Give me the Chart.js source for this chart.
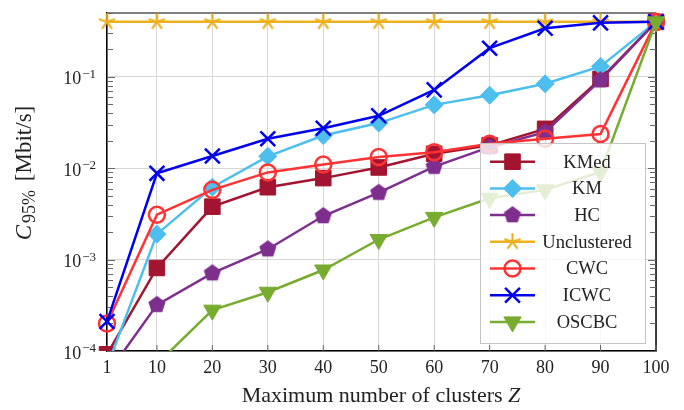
<!DOCTYPE html>
<html lang="en">
<head>
<meta charset="UTF-8">
<title>C95% vs maximum number of clusters</title>
<script src="https://cdn.jsdelivr.net/npm/chart.js"></script>
<style>
    html, body { margin: 0; padding: 0; background: #fff; }
    #wrap { width: 684px; height: 410px; }
</style>
</head>
<body>
<div id="wrap"><canvas id="chart" width="684" height="410"></canvas></div>
<script>
    // data
    const clusters = [1, 10, 20, 30, 40, 50, 60, 70, 80, 90, 100];
    const yTicks = [1e-4, 1e-3, 1e-2, 1e-1];
    const yTickExponents = ['−4', '−3', '−2', '−1'];
    const seriesNames = ['KMed', 'KM', 'HC', 'Unclustered', 'CWC', 'ICWC', 'OSCBC'];

    const kmed = [0.000092, 0.00081, 0.0038, 0.0062, 0.0078, 0.0102, 0.0144, 0.0178, 0.027, 0.095, 0.4];
    const km = [0.000067, 0.0019, 0.0062, 0.0135, 0.0228, 0.0312, 0.0494, 0.063, 0.084, 0.13, 0.4];
    const hc = [0.000055, 0.00032, 0.00071, 0.0013, 0.003, 0.0054, 0.0104, 0.017, 0.0248, 0.092, 0.4];
    const unclustered = [0.4, 0.4, 0.4, 0.4, 0.4, 0.4, 0.4, 0.4, 0.4, 0.4, 0.4];
    const cwc = [0.0002, 0.0031, 0.0058, 0.009, 0.011, 0.0133, 0.015, 0.0185, 0.021, 0.0237, 0.4];
    const icwc = [0.00021, 0.0088, 0.0136, 0.021, 0.0274, 0.0375, 0.072, 0.206, 0.34, 0.39, 0.4];
    const oscbc = [0.00003, 0.000072, 0.00028, 0.00044, 0.00077, 0.00166, 0.0029, 0.0047, 0.0058, 0.0091, 0.4];

    const seriesValues = [kmed, km, hc, unclustered, cwc, icwc, oscbc];

    // custom marker shapes (pentagon, 5-arm star)
    function pentagon(color, r) {
        const c = document.createElement('canvas');
        const s = Math.ceil(r * 2 + 2);
        c.width = c.height = s;
        const g = c.getContext('2d');
        g.fillStyle = color;
        g.beginPath();
        for (let k = 0; k < 5; k++) {
            const a = -Math.PI / 2 + k * 2 * Math.PI / 5;
            g.lineTo(s / 2 + r * Math.cos(a), s / 2 + r * Math.sin(a));
        }
        g.closePath();
        g.fill();
        return c;
    }
    function asterisk(color, r) {
        const c = document.createElement('canvas');
        const s = Math.ceil(r * 2 + 4);
        c.width = c.height = s;
        const g = c.getContext('2d');
        g.strokeStyle = color;
        g.lineWidth = 2.2;
        g.beginPath();
        for (let k = 0; k < 5; k++) {
            const a = -Math.PI / 2 + k * 2 * Math.PI / 5;
            g.moveTo(s / 2, s / 2);
            g.lineTo(s / 2 + r * Math.cos(a), s / 2 + r * Math.sin(a));
        }
        g.stroke();
        return c;
    }

    const styles = [
        { color: '#A2142F', point: 'rect', radius: 11, fill: '#A2142F', bw: 1 },
        { color: '#4DBEEE', point: 'rectRot', radius: 9, fill: '#4DBEEE', bw: 1 },
        { color: '#7E2F8E', point: pentagon('#7E2F8E', 9), radius: 9, fill: '#7E2F8E', bw: 1 },
        { color: '#EDB120', point: asterisk('#EDB120', 8.5), radius: 8, fill: '#EDB120', bw: 1 },
        { color: '#FF3333', point: 'circle', radius: 8, fill: 'rgba(0,0,0,0)', bw: 2.5 },
        { color: '#0000EE', point: 'crossRot', radius: 10.5, fill: '#0000EE', bw: 2.5 },
        { color: '#77AC30', point: 'triangle', radius: 10, fill: '#77AC30', bw: 1, rotation: 180 }
    ];

    const datasets = seriesNames.map((name, i) => ({
        label: name,
        data: clusters.map((x, j) => ({ x: x, y: seriesValues[i][j] })),
        borderColor: styles[i].color,
        backgroundColor: styles[i].fill,
        borderWidth: 2.5,
        pointStyle: styles[i].point,
        pointRadius: styles[i].radius,
        pointHoverRadius: styles[i].radius,
        pointBorderWidth: styles[i].bw,
        pointBorderColor: styles[i].color,
        pointBackgroundColor: styles[i].fill,
        pointRotation: styles[i].rotation || 0,
        tension: 0,
        order: seriesNames.length - i, // later series drawn on top
        clip: { left: 20, top: 20, right: 20, bottom: 0 }
    }));

    const serif = "'Liberation Serif', 'Times New Roman', serif";

    // frame, inner ticks, y tick labels with raised exponents
    const framePlugin = {
        id: 'frame',
        beforeDatasetsDraw(chart) {
            const { ctx, chartArea: a, scales } = chart;
            ctx.save();
            ctx.strokeStyle = '#555';
            ctx.lineWidth = 1.5;
            ctx.beginPath();
            ctx.moveTo(a.left, a.top);
            ctx.lineTo(a.right, a.top);
            ctx.stroke();
            ctx.strokeStyle = '#000';
            ctx.beginPath();
            ctx.moveTo(a.right, a.top);
            ctx.lineTo(a.right, a.bottom);
            ctx.stroke();

            ctx.strokeStyle = '#666';
            ctx.lineWidth = 1;
            ctx.beginPath();
            clusters.forEach(v => {
                const x = scales.x.getPixelForValue(v);
                ctx.moveTo(x, a.bottom); ctx.lineTo(x, a.bottom - 6);
                ctx.moveTo(x, a.top); ctx.lineTo(x, a.top + 6);
            });
            yTicks.forEach(d => {
                for (let m = 1; m <= 9; m++) {
                    const v = d * m;
                    if (v > scales.y.max) break;
                    const y = Math.round(scales.y.getPixelForValue(v)) + 0.5;
                    const len = m === 1 ? 8 : 6;
                    ctx.moveTo(a.left, y); ctx.lineTo(a.left + len, y);
                    ctx.moveTo(a.right, y); ctx.lineTo(a.right - len, y);
                }
            });
            ctx.stroke();

            ctx.fillStyle = '#222';
            ctx.textBaseline = 'alphabetic';
            ctx.textAlign = 'left';
            yTicks.forEach((v, i) => {
                const y = scales.y.getPixelForValue(v);
                const right = a.left - 11;
                ctx.font = '13px ' + serif;
                const we = ctx.measureText(yTickExponents[i]).width;
                ctx.fillText(yTickExponents[i], right - we, y + 1);
                ctx.font = '18px ' + serif;
                const wb = ctx.measureText('10').width;
                ctx.fillText('10', right - we - 1 - wb, y + 7.5);
            });
            ctx.restore();
        }
    };

    // legend box inside the plot, on top of the lines
    const legendPlugin = {
        id: 'insideLegend',
        afterDatasetsDraw(chart) {
            const ctx = chart.ctx;
            const box = { left: 480, top: 143, width: 165, height: 200 };
            ctx.save();
            ctx.fillStyle = 'rgba(255,255,255,0.8)';
            ctx.fillRect(box.left, box.top, box.width, box.height);
            ctx.strokeStyle = '#c4c4c4';
            ctx.lineWidth = 1;
            ctx.strokeRect(box.left + 0.5, box.top + 0.5, box.width, box.height);
            ctx.font = '18.5px ' + serif;
            ctx.textAlign = 'center';
            ctx.textBaseline = 'middle';
            seriesNames.forEach((name, i) => {
                const st = styles[i];
                const y = 161.7 + i * 26.7;
                ctx.strokeStyle = st.color;
                ctx.lineWidth = 2.5;
                ctx.beginPath();
                ctx.moveTo(490, y);
                ctx.lineTo(535, y);
                ctx.stroke();
                ctx.fillStyle = st.fill;
                ctx.lineWidth = st.bw;
                Chart.helpers.drawPoint(ctx, {
                    pointStyle: st.point,
                    radius: st.radius,
                    rotation: st.rotation || 0,
                    borderWidth: st.bw
                }, 512.5, y);
                ctx.fillStyle = '#222';
                ctx.fillText(name, 587, y + 1);
            });
            ctx.restore();
        }
    };

    // axis titles with italic symbols and subscript
    const titlePlugin = {
        id: 'axisTitles',
        afterDraw(chart) {
            const ctx = chart.ctx;
            ctx.save();
            ctx.fillStyle = '#222';
            ctx.textBaseline = 'alphabetic';

            // x title
            const main = 'Maximum number of clusters ';
            ctx.font = '22px ' + serif;
            const w1 = ctx.measureText(main).width;
            ctx.font = 'italic 22px ' + serif;
            const w2 = ctx.measureText('Z').width;
            const x0 = 381 - (w1 + w2) / 2;
            ctx.font = '22px ' + serif;
            ctx.fillText(main, x0, 402);
            ctx.font = 'italic 22px ' + serif;
            ctx.fillText('Z', x0 + w1, 402);

            // y title, rotated
            ctx.translate(31, 173);
            ctx.rotate(-Math.PI / 2);
            ctx.font = 'italic 23px ' + serif;
            const a = ctx.measureText('C').width;
            ctx.font = '18px ' + serif;
            const b = ctx.measureText('95%').width;
            ctx.font = '23px ' + serif;
            const c = ctx.measureText(' [Mbit/s]').width;
            const gap = 2, gap2 = 3;
            const s = -(a + gap + b + gap2 + c) / 2;
            ctx.font = 'italic 23px ' + serif;
            ctx.fillText('C', s, 0);
            ctx.font = '18px ' + serif;
            ctx.fillText('95%', s + a + gap, 3.5);
            ctx.font = '23px ' + serif;
            ctx.fillText(' [Mbit/s]', s + a + gap + b + gap2, 0);
            ctx.restore();
        }
    };

    new Chart(document.getElementById('chart'), {
        type: 'line',
        data: { datasets: datasets },
        options: {
            responsive: false,
            animation: false,
            events: [],
            layout: { padding: { top: 10, right: 28, left: 0, bottom: 0 } },
            plugins: {
                legend: { display: false },
                tooltip: { enabled: false }
            },
            scales: {
                x: {
                    type: 'linear',
                    min: 1,
                    max: 100,
                    afterBuildTicks: s => { s.ticks = clusters.map(v => ({ value: v })); },
                    afterFit: s => { s.height = 59; },
                    ticks: {
                        autoSkip: false,
                        maxRotation: 0,
                        padding: 6,
                        color: '#222',
                        font: { family: serif, size: 18 }
                    },
                    grid: { color: '#d6d6d6', lineWidth: 1, drawTicks: false },
                    border: { display: true, color: '#000', width: 1.5 }
                },
                y: {
                    type: 'logarithmic',
                    min: 1e-4,
                    max: 0.5,
                    afterBuildTicks: s => { s.ticks = yTicks.map(v => ({ value: v })); },
                    afterFit: s => { s.width = 107; },
                    ticks: { display: false },
                    grid: { color: '#d6d6d6', lineWidth: 1, drawTicks: false },
                    border: { display: true, color: '#000', width: 1.5 }
                }
            }
        },
        plugins: [framePlugin, legendPlugin, titlePlugin]
    });
</script>
</body>
</html>
